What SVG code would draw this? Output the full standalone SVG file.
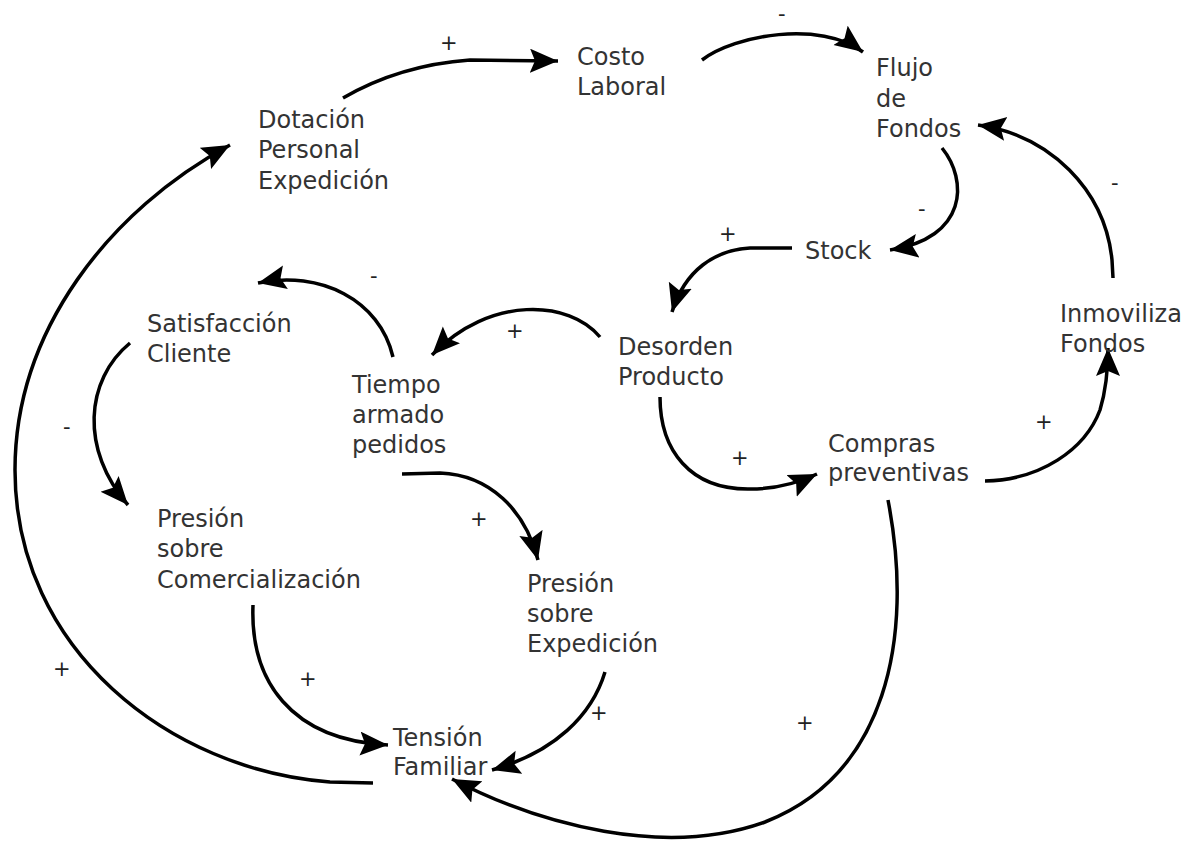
<svg xmlns="http://www.w3.org/2000/svg" width="1190" height="846" viewBox="0 0 1190 846">
<defs>
<marker id="ah" markerUnits="userSpaceOnUse" markerWidth="32" markerHeight="26" refX="28" refY="12" orient="auto">
<path d="M0,0 L28,12 L0,24 L5,12 Z" fill="#000"/>
</marker>
<style>
.n{font-family:"DejaVu Sans","Liberation Sans",sans-serif;font-size:24px;fill:#333}
.s{font-family:"DejaVu Sans","Liberation Sans",sans-serif;font-size:21px;fill:#222}
.c{fill:none;stroke:#000;stroke-width:3.5;marker-end:url(#ah)}
</style>
</defs>
<rect width="1190" height="846" fill="#fff"/>
<g id="connectors">
<path class="c" d="M343,98 Q400,65 470,60 L558,61"/>
<path class="c" d="M702,60 C735,35 820,20 863,52"/>
<path class="c" d="M942,148 C968,180 968,238 890,250"/>
<path class="c" d="M792,248 L750,248 C715,250 685,270 672,312"/>
<path class="c" d="M1113,278 L1112,260 C1105,190 1050,135 978,125"/>
<path class="c" d="M985,481 C1040,480 1085,450 1100,410 C1106,390 1108,370 1108,348"/>
<path class="c" d="M600,337 C570,300 490,295 432,355"/>
<path class="c" d="M393,357 C380,300 320,270 258,283"/>
<path class="c" d="M130,343 C85,380 80,450 128,505"/>
<path class="c" d="M373,783 L330,782 C170,770 15,650 15,470 C15,330 110,210 230,145"/>
<path class="c" d="M253,605 C250,680 290,740 388,745"/>
<path class="c" d="M605,672 C592,715 555,752 492,770"/>
<path class="c" d="M402,474 L440,473 C490,475 525,510 538,560"/>
<path class="c" d="M660,397 C660,450 690,490 750,489 C780,489 800,482 817,474"/>
<path class="c" d="M888,500 C915,640 885,775 765,822 C665,858 540,825 452,779"/>
</g>
<g id="signs">
<text class="s" x="440" y="50">+</text>
<text class="s" x="778" y="21">-</text>
<text class="s" x="918" y="216">-</text>
<text class="s" x="719" y="241">+</text>
<text class="s" x="1111" y="190">-</text>
<text class="s" x="370" y="283">-</text>
<text class="s" x="506" y="338">+</text>
<text class="s" x="63" y="434">-</text>
<text class="s" x="731" y="465">+</text>
<text class="s" x="1035" y="429">+</text>
<text class="s" x="470" y="526">+</text>
<text class="s" x="299" y="686">+</text>
<text class="s" x="590" y="720">+</text>
<text class="s" x="53" y="676">+</text>
<text class="s" x="796" y="730">+</text>
</g>
<g id="costo"><text class="n"><tspan x="577" y="65">Costo</tspan><tspan x="577" y="95">Laboral</tspan></text></g>
<g id="flujo"><text class="n"><tspan x="876" y="76">Flujo</tspan><tspan x="876" y="107">de</tspan><tspan x="876" y="137">Fondos</tspan></text></g>
<g id="dotacion"><text class="n"><tspan x="258" y="128">Dotación</tspan><tspan x="258" y="158">Personal</tspan><tspan x="258" y="189">Expedición</tspan></text></g>
<g id="stock"><text class="n" x="805" y="259">Stock</text></g>
<g id="satisfaccion"><text class="n"><tspan x="147" y="332">Satisfacción</tspan><tspan x="147" y="362">Cliente</tspan></text></g>
<g id="inmoviliza"><text class="n"><tspan x="1060" y="322">Inmoviliza</tspan><tspan x="1060" y="352">Fondos</tspan></text></g>
<g id="desorden"><text class="n"><tspan x="618" y="355">Desorden</tspan><tspan x="618" y="385">Producto</tspan></text></g>
<g id="tiempo"><text class="n"><tspan x="352" y="393">Tiempo</tspan><tspan x="352" y="423">armado</tspan><tspan x="352" y="453">pedidos</tspan></text></g>
<g id="compras"><text class="n"><tspan x="828" y="452">Compras</tspan><tspan x="828" y="481">preventivas</tspan></text></g>
<g id="presion-com"><text class="n"><tspan x="157" y="527">Presión</tspan><tspan x="157" y="557">sobre</tspan><tspan x="157" y="588">Comercialización</tspan></text></g>
<g id="presion-exp"><text class="n"><tspan x="527" y="592">Presión</tspan><tspan x="527" y="622">sobre</tspan><tspan x="527" y="652">Expedición</tspan></text></g>
<g id="tension"><text class="n"><tspan x="393" y="746">Tensión</tspan><tspan x="393" y="775">Familiar</tspan></text></g>
</svg>
